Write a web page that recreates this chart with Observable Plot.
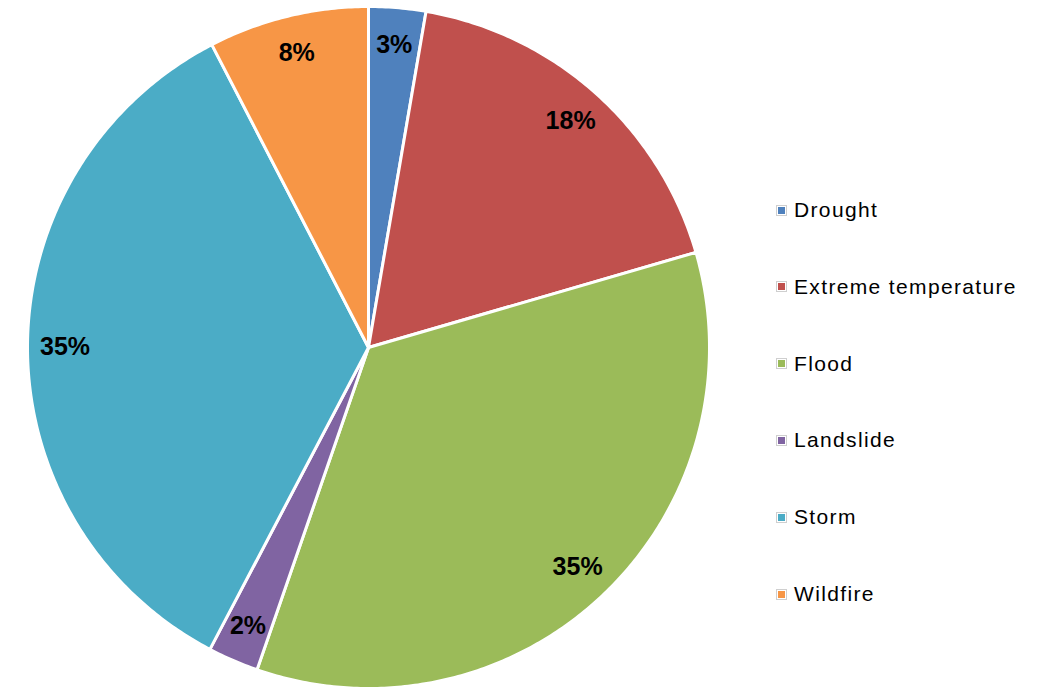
<!DOCTYPE html>
<html><head><meta charset="utf-8">
<script src="https://cdn.jsdelivr.net/npm/d3@7"></script>
<script src="https://cdn.jsdelivr.net/npm/@observablehq/plot@0.6"></script>
<style>
body{margin:0;background:#fff;}
#wrap{position:relative;width:1045px;height:688px;}
#legend{position:absolute;left:776px;top:0;font-family:"Liberation Sans",Arial,sans-serif;font-size:21px;letter-spacing:1.35px;color:#000;}
.item{position:absolute;left:0;white-space:nowrap;display:flex;align-items:center;height:24px;line-height:24px;}
.sw{width:7px;height:7px;border:1px solid #fff;outline:1px solid #cfcfcf;margin-right:8px;margin-left:1px}
</style></head><body><div id="wrap"><div id="legend"></div></div>
<script>
const categories = ["Drought","Extreme temperature","Flood","Landslide","Storm","Wildfire"];
const values = [2.7, 17.8, 34.8, 2.4, 34.7, 7.6];
const colors = ["#4F81BD","#C0504D","#9BBB59","#8064A2","#4BACC6","#F79646"];

const data = categories.map((name, i) => ({name, value: values[i]}));
const total = d3.sum(values);
const arcs = d3.pie().sort(null).value(d => d.value)(data);

// slice outlines: center -> arc -> center
const points = [];
arcs.forEach(a => {
  const name = a.data.name;
  points.push({name, x: 0, y: 0});
  const n = Math.max(4, Math.ceil((a.endAngle - a.startAngle) / 0.01));
  for (let k = 0; k <= n; k++) {
    const t = a.startAngle + (a.endAngle - a.startAngle) * k / n;
    points.push({name, x: Math.sin(t), y: Math.cos(t)});
  }
  points.push({name, x: 0, y: 0});
});

const labelR = 0.89;
const labelData = arcs.map(a => {
  const m = (a.startAngle + a.endAngle) / 2;
  return {x: labelR * Math.sin(m), y: labelR * Math.cos(m),
          text: Math.round(a.data.value / total * 100) + "%"};
});

const chart = Plot.plot({
  width: 1045, height: 688, margin: 0,
  x: {domain: [-1, 1], range: [27, 709], axis: null},
  y: {domain: [-1, 1], range: [688, 6], axis: null},
  color: {domain: categories, range: colors},
  style: {fontFamily: '"Liberation Sans", Arial, sans-serif', background: "#fff"},
  marks: [
    Plot.line(points, {x: "x", y: "y", z: "name", fill: "name", stroke: "white",
                       strokeWidth: 3, strokeLinejoin: "round", curve: "linear"}),
    Plot.text(labelData, {x: "x", y: "y", text: "text", fontSize: 25, fontWeight: "bold",
                          fill: "black", textAnchor: "middle", lineAnchor: "middle"})
  ]
});
document.getElementById("wrap").prepend(chart);

const legend = document.getElementById("legend");
categories.forEach((c, i) => {
  const item = document.createElement("div");
  item.className = "item";
  item.style.top = (210 + i * 76.8 - 12) + "px";
  const sw = document.createElement("span");
  sw.className = "sw";
  sw.style.background = colors[i];
  const tx = document.createElement("span");
  tx.textContent = c;
  item.append(sw, tx);
  legend.append(item);
});
</script>
</body></html>
